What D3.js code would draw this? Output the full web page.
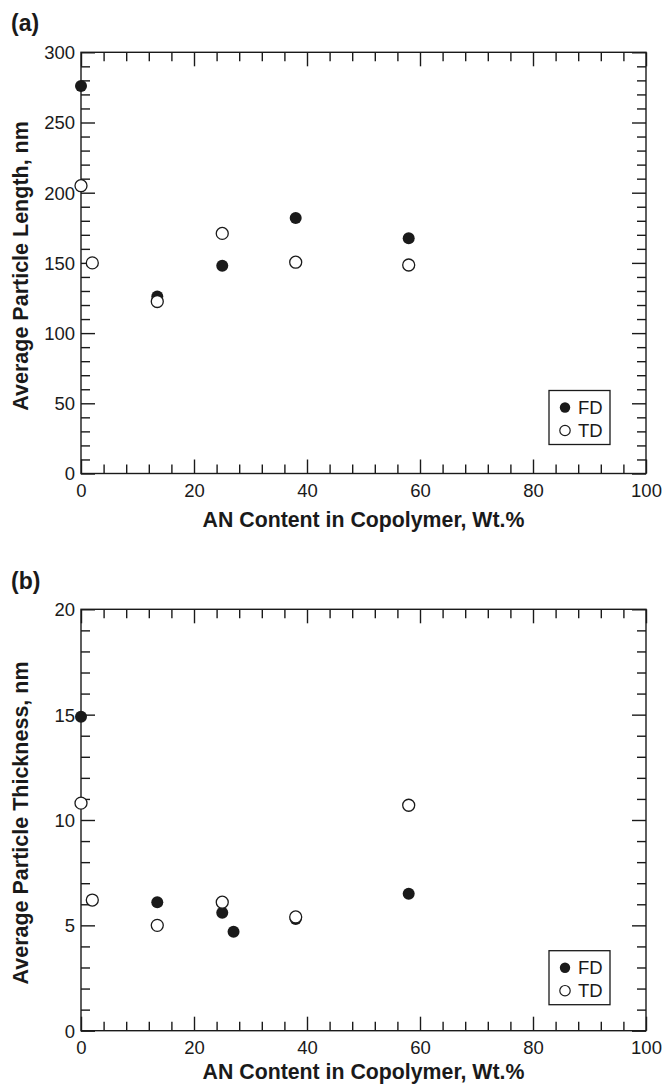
<!DOCTYPE html>
<html>
<head>
<meta charset="utf-8">
<script src="https://cdn.jsdelivr.net/npm/d3@7"></script>
<style>
  body { margin: 0; background: #fff; }
  svg { display: block; font-family: "Liberation Sans", Arial, Helvetica, sans-serif; }
</style>
</head>
<body>
<div id="chart"></div>
<script>
// Data
const xTicks = [0, 20, 40, 60, 80, 100];

// (a) particle length
const lengthTicks = [0, 50, 100, 150, 200, 250, 300];
const lengthFD_x = [0, 13.5, 25, 38, 58];
const lengthFD = [276, 126, 148, 182, 167.5];
const lengthTD_x = [0, 2, 13.5, 25, 38, 58];
const lengthTD = [205, 150, 122.5, 171, 150.5, 148.5];

// (b) particle thickness
const thickTicks = [0, 5, 10, 15, 20];
const thickFD_x = [0, 13.5, 25, 27, 38, 58];
const thickFD = [14.9, 6.1, 5.6, 4.7, 5.3, 6.5];
const thickTD_x = [0, 2, 13.5, 25, 38, 58];
const thickTD = [10.8, 6.2, 5.0, 6.1, 5.4, 10.7];

const seriesNames = ['FD', 'TD'];

const width = 662;
const height = 1085;
const left = 81, right = 646;
const ink = '#1a1a1a';

const svg = d3.select('#chart').append('svg')
  .attr('width', width)
  .attr('height', height);

function drawPanel(p) {
  const x = d3.scaleLinear().domain([0, 100]).range([left, right]);
  const y = d3.scaleLinear().domain([0, p.yMax]).range([p.bottom, p.top]);
  const g = svg.append('g');

  const xMinor = d3.range(0, 101, 4).filter(v => v % 20 !== 0);
  const yMinor = d3.range(0, p.yMax + 0.001, p.yMinorStep).filter(v => !p.yTicks.includes(+v.toFixed(3)));

  // ticks point inward on all four sides
  const axes = [
    ['bottom', d3.axisBottom(x), `translate(0,${p.bottom})`, xTicks, xMinor, true],
    ['top', d3.axisTop(x), `translate(0,${p.top})`, xTicks, xMinor, false],
    ['left', d3.axisLeft(y), `translate(${left},0)`, p.yTicks, yMinor, true],
    ['right', d3.axisRight(y), `translate(${right},0)`, p.yTicks, yMinor, false]
  ];
  axes.forEach(([side, ax, tr, major, minor, labelled]) => {
    g.append('g').attr('transform', tr)
      .call(ax.tickValues(minor).tickSize(-9).tickFormat(''))
      .call(s => s.select('.domain').remove());
    const a = g.append('g').attr('transform', tr)
      .call(ax.tickValues(major).tickSize(-14).tickPadding(0)
        .tickFormat(labelled ? d3.format('d') : ''))
      .call(s => s.select('.domain').remove());
    a.attr('font-family', null).attr('font-size', null);
    a.selectAll('text').attr('fill', ink).style('font-size', '18.5px');
    if (side === 'bottom') a.selectAll('text').attr('y', 23.5).attr('dy', null);
    if (side === 'left') a.selectAll('text').attr('x', -6).attr('dy', '0.35em');
  });
  g.selectAll('.tick line').attr('stroke', ink).attr('stroke-width', 1.4);

  // frame
  g.append('rect')
    .attr('x', left).attr('y', p.top)
    .attr('width', right - left).attr('height', p.bottom - p.top)
    .attr('fill', 'none').attr('stroke', ink).attr('stroke-width', 1.4);

  // points: FD first, TD on top
  g.append('g').selectAll('circle')
    .data(p.fdX.map((v, i) => [v, p.fd[i]]))
    .join('circle')
    .attr('cx', d => x(d[0])).attr('cy', d => y(d[1])).attr('r', 6)
    .attr('fill', ink);
  g.append('g').selectAll('circle')
    .data(p.tdX.map((v, i) => [v, p.td[i]]))
    .join('circle')
    .attr('cx', d => x(d[0])).attr('cy', d => y(d[1])).attr('r', 6)
    .attr('fill', '#fff').attr('stroke', ink).attr('stroke-width', 1.3);

  // legend
  const lx = 549, lw = 61, lh = 54, ly = p.bottom - p.legendGap - lh;
  const lg = g.append('g');
  lg.append('rect').attr('x', lx).attr('y', ly).attr('width', lw).attr('height', lh)
    .attr('fill', '#fff').attr('stroke', ink).attr('stroke-width', 1.3);
  seriesNames.forEach((name, i) => {
    const cy = ly + 17 + i * 23;
    lg.append('circle').attr('cx', lx + 16).attr('cy', cy).attr('r', 5.2)
      .attr('fill', i === 0 ? ink : '#fff')
      .attr('stroke', ink).attr('stroke-width', i === 0 ? 0 : 1.2);
    lg.append('text').attr('x', lx + 29).attr('y', cy + 6.5)
      .attr('fill', ink).style('font-size', '18.5px').text(name);
  });

  // titles
  g.append('text')
    .attr('x', (left + right) / 2).attr('y', p.bottom + p.titleGap)
    .attr('text-anchor', 'middle').attr('fill', ink)
    .style('font-size', '21.3px').style('font-weight', 'bold')
    .text('AN Content in Copolymer, Wt.%');
  g.append('text')
    .attr('transform', `translate(28,${(p.top + p.bottom) / 2 + 3}) rotate(-90)`)
    .attr('text-anchor', 'middle').attr('fill', ink)
    .style('font-size', '21.5px').style('font-weight', 'bold')
    .text(p.yTitle);
  g.append('text')
    .attr('x', 11).attr('y', p.labelY)
    .attr('fill', ink)
    .style('font-size', '23px').style('font-weight', 'bold')
    .text(p.label);
}

drawPanel({
  top: 52.3, bottom: 473.5, yMax: 300, yTicks: lengthTicks, yMinorStep: 10,
  fdX: lengthFD_x, fd: lengthFD, tdX: lengthTD_x, td: lengthTD, titleGap: 53,
  legendGap: 29, yTitle: 'Average Particle Length, nm', label: '(a)', labelY: 30.5
});
drawPanel({
  top: 609.3, bottom: 1030.7, yMax: 20, yTicks: thickTicks, yMinorStep: 1,
  fdX: thickFD_x, fd: thickFD, tdX: thickTD_x, td: thickTD, titleGap: 48.5,
  legendGap: 26, yTitle: 'Average Particle Thickness, nm', label: '(b)', labelY: 588.5
});
</script>
</body>
</html>
